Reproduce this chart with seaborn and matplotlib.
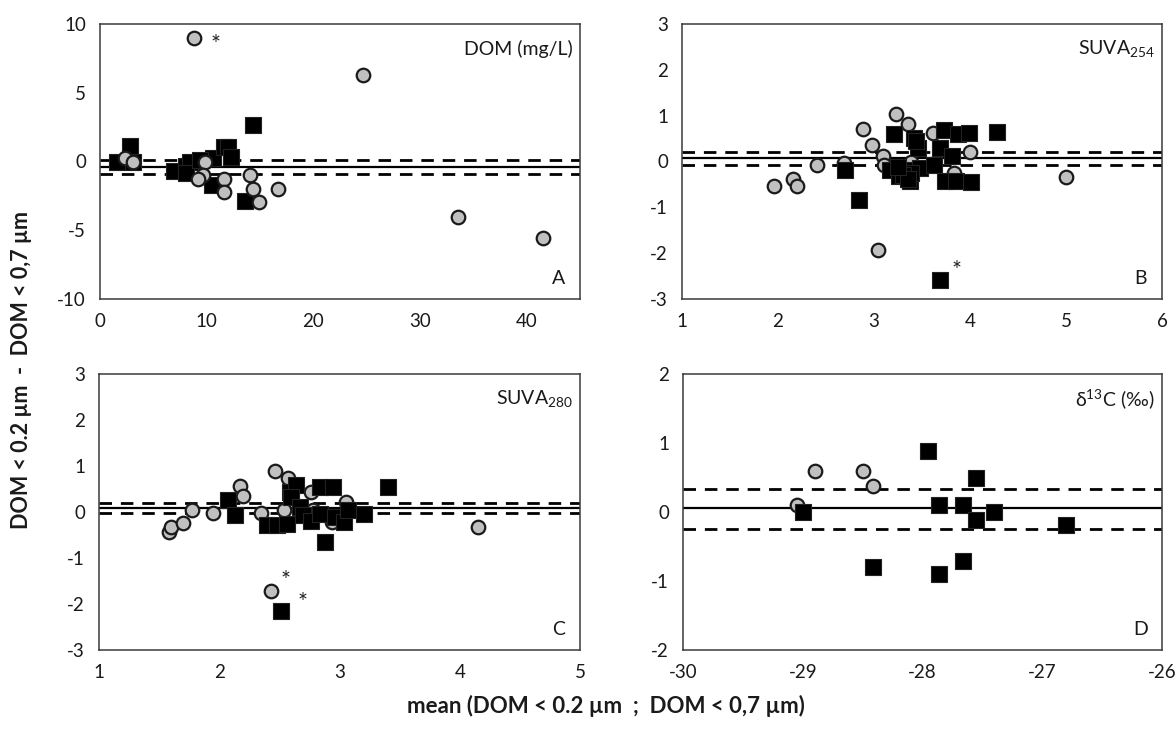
import numpy as np
import pandas as pd
import matplotlib
matplotlib.use("Agg")
import matplotlib.pyplot as plt
import seaborn as sns

# ---------------- data ----------------
# Panel A : DOM (mg/L)
a_circ_x = [8.84, 24.7, 2.3, 3.1, 9.8, 9.7, 9.2, 11.6, 11.6, 14.1, 14.3, 14.9, 16.7, 33.6, 41.5]
a_circ_y = [9.0, 6.28, 0.25, 0.0, -0.07, -0.96, -1.28, -1.28, -2.2, -0.96, -1.98, -2.94, -1.98, -4.0, -5.55]
a_sq_x = [2.8, 1.6, 3.1, 6.9, 8.1, 8.4, 8.1, 10.6, 10.5, 11.6, 12.0, 12.3, 13.6, 14.3, 9.4]
a_sq_y = [1.1, 0.0, 0.0, -0.72, -0.36, 0.0, -0.85, 0.24, -1.7, 1.09, 1.09, 0.36, -2.85, 2.66, 0.1]
a_lines = [-0.41, 0.14, -0.94]   # mean, upper, lower

# Panel B : SUVA254
b_circ_x = [1.96, 2.16, 2.20, 2.41, 2.69, 2.89, 2.98, 3.09, 3.10, 3.04, 3.23, 3.35, 3.39, 3.61, 3.83, 4.00, 5.00]
b_circ_y = [-0.54, -0.39, -0.54, -0.07, -0.03, 0.72, 0.37, 0.12, -0.07, -1.92, 1.03, 0.81, -0.01, 0.63, -0.25, 0.20, -0.34]
b_sq_x = [2.70, 2.84, 3.21, 3.17, 3.26, 3.31, 3.37, 3.42, 3.46, 3.48, 3.39, 3.63, 3.69, 3.73, 3.81,
          3.87, 3.99, 3.74, 3.85, 4.01, 4.28, 3.69, 3.30, 3.35, 3.25, 3.44]
b_sq_y = [-0.19, -0.83, 0.59, -0.18, -0.32, -0.18, -0.43, 0.52, 0.30, -0.14, -0.25, -0.07, 0.30, 0.69, 0.12,
          0.59, 0.63, -0.43, -0.43, -0.45, 0.65, -2.59, -0.30, -0.38, -0.12, 0.45]
b_lines = [0.08, 0.21, -0.08]

# Panel C : SUVA280
c_circ_x = [1.58, 1.60, 1.70, 1.77, 1.95, 2.17, 2.20, 2.35, 2.46, 2.57, 2.54, 2.76, 2.78, 2.94, 3.05, 2.43, 4.15]
c_circ_y = [-0.44, -0.33, -0.24, 0.04, -0.02, 0.56, 0.34, -0.02, 0.89, 0.73, 0.05, 0.44, 0.05, -0.22, 0.22, -1.72, -0.33]
c_sq_x = [2.07, 2.13, 2.40, 2.48, 2.56, 2.59, 2.64, 2.60, 2.67, 2.70, 2.76, 2.84, 2.95, 2.84, 2.96,
          3.04, 3.07, 3.20, 2.88, 3.40, 2.51]
c_sq_y = [0.26, -0.07, -0.29, -0.29, -0.27, 0.44, 0.58, 0.33, 0.11, -0.07, -0.20, 0.55, 0.55, -0.04, -0.11,
          -0.22, 0.04, -0.04, -0.65, 0.55, -2.16]
c_lines = [0.08, 0.19, -0.03]

# Panel D : delta13C
d_circ_x = [-29.05, -28.90, -28.50, -28.41]
d_circ_y = [0.10, 0.59, 0.59, 0.38]
d_sq_x = [-29.0, -28.41, -27.95, -27.86, -27.86, -27.66, -27.66, -27.55, -27.55, -27.40, -26.80]
d_sq_y = [0.0, -0.80, 0.89, 0.10, -0.90, 0.10, -0.71, 0.50, -0.11, 0.0, -0.19]
d_lines = [0.06, 0.33, -0.24]

# asterisk annotations (x, y)
a_star = [(10.8, 8.5)]
b_star = [(3.86, -2.38)]
c_star = [(2.55, -1.50), (2.69, -1.97)]

titles = ["DOM (mg/L)", r"SUVA$_{254}$", r"SUVA$_{280}$", r"$\mathregular{\delta^{13}}$C (‰)"]
letters = ["A", "B", "C", "D"]
xlims = [(0, 45), (1, 6), (1, 5), (-30, -26)]
ylims = [(-10, 10), (-3, 3), (-3, 3), (-2, 2)]
xticks = [[0, 10, 20, 30, 40], [1, 2, 3, 4, 5, 6], [1, 2, 3, 4, 5], [-30, -29, -28, -27, -26]]
yticks = [[-10, -5, 0, 5, 10], [-3, -2, -1, 0, 1, 2, 3], [-3, -2, -1, 0, 1, 2, 3], [-2, -1, 0, 1, 2]]

# ---------------- style ----------------
sns.set_style("white")
plt.rcParams["font.family"] = ["Lato", "DejaVu Sans"]
plt.rcParams["axes.unicode_minus"] = False
plt.rcParams["mathtext.fontset"] = "custom"
plt.rcParams["mathtext.rm"] = "Lato"
plt.rcParams["mathtext.it"] = "Lato:italic"
plt.rcParams["mathtext.bf"] = "Lato:bold"

W, H = 1176, 740
fig = plt.figure(figsize=(W / 100, H / 100), dpi=100)

# pixel boxes: left, right, top, bottom
boxes = [(100, 580, 24, 299), (682, 1162, 24, 299), (99, 580, 374, 650), (683, 1162, 374, 650)]

panels = [
    (a_circ_x, a_circ_y, a_sq_x, a_sq_y, a_lines, a_star, True),
    (b_circ_x, b_circ_y, b_sq_x, b_sq_y, b_lines, b_star, False),
    (c_circ_x, c_circ_y, c_sq_x, c_sq_y, c_lines, c_star, False),
    (d_circ_x, d_circ_y, d_sq_x, d_sq_y, d_lines, [], False),
]

spine_col = "#3a3a3a"
for i, (cx, cy, sx, sy, lines, stars, circ_on_top) in enumerate(panels):
    l, r, t, b = boxes[i]
    ax = fig.add_axes([l / W, 1 - b / H, (r - l) / W, (b - t) / H])
    ax.set_xlim(*xlims[i])
    ax.set_ylim(*ylims[i])

    # limits of agreement lines
    ax.axhline(lines[0], color="black", lw=1.6, zorder=1)
    ax.axhline(lines[1], color="black", lw=2.0, ls=(0, (4.5, 3.2)), zorder=1)
    ax.axhline(lines[2], color="black", lw=2.0, ls=(0, (4.5, 3.2)), zorder=1)

    dc = pd.DataFrame({"x": cx, "y": cy})
    ds = pd.DataFrame({"x": sx, "y": sy})
    zc, zs = (4, 3) if circ_on_top else (3, 4)
    sns.scatterplot(data=dc, x="x", y="y", ax=ax, marker="o", s=95, color="#c0c0c0",
                    edgecolor="#1a1a1a", linewidth=1.6, zorder=zc, legend=False)
    sns.scatterplot(data=ds, x="x", y="y", ax=ax, marker="s", s=120, color="black",
                    edgecolor="#222222", linewidth=0.8, zorder=zs, legend=False)

    for (px, py) in stars:
        ax.text(px, py, "*", fontsize=17, ha="center", va="center", color="#222222", zorder=5)

    ax.set_xticks(xticks[i])
    ax.set_yticks(yticks[i])
    ax.set_xlabel("")
    ax.set_ylabel("")
    ax.tick_params(axis="both", direction="out", length=6, width=1.1, color=spine_col,
                   labelsize=13.5, labelcolor="#1a1a1a", pad=4)
    for sp in ax.spines.values():
        sp.set_visible(True)
        sp.set_color(spine_col)
        sp.set_linewidth(1.1)

    ax.text(0.985, 0.91, titles[i], transform=ax.transAxes, ha="right", va="center",
            fontsize=14, color="#1a1a1a")
    ax.text(0.955, 0.075, letters[i], transform=ax.transAxes, ha="center", va="center",
            fontsize=14, color="#1a1a1a")

fig.text(22 / W, 1 - 370 / H, "DOM < 0.2 µm  -  DOM < 0,7 µm", rotation=90,
         ha="center", va="center", fontsize=15.5, fontweight="bold", color="#1a1a1a")
fig.text(606 / W, 1 - 706 / H, "mean (DOM < 0.2 µm  ;  DOM < 0,7 µm)",
         ha="center", va="center", fontsize=16, fontweight="bold", color="#1a1a1a")

fig.savefig("out.png", dpi=100)
